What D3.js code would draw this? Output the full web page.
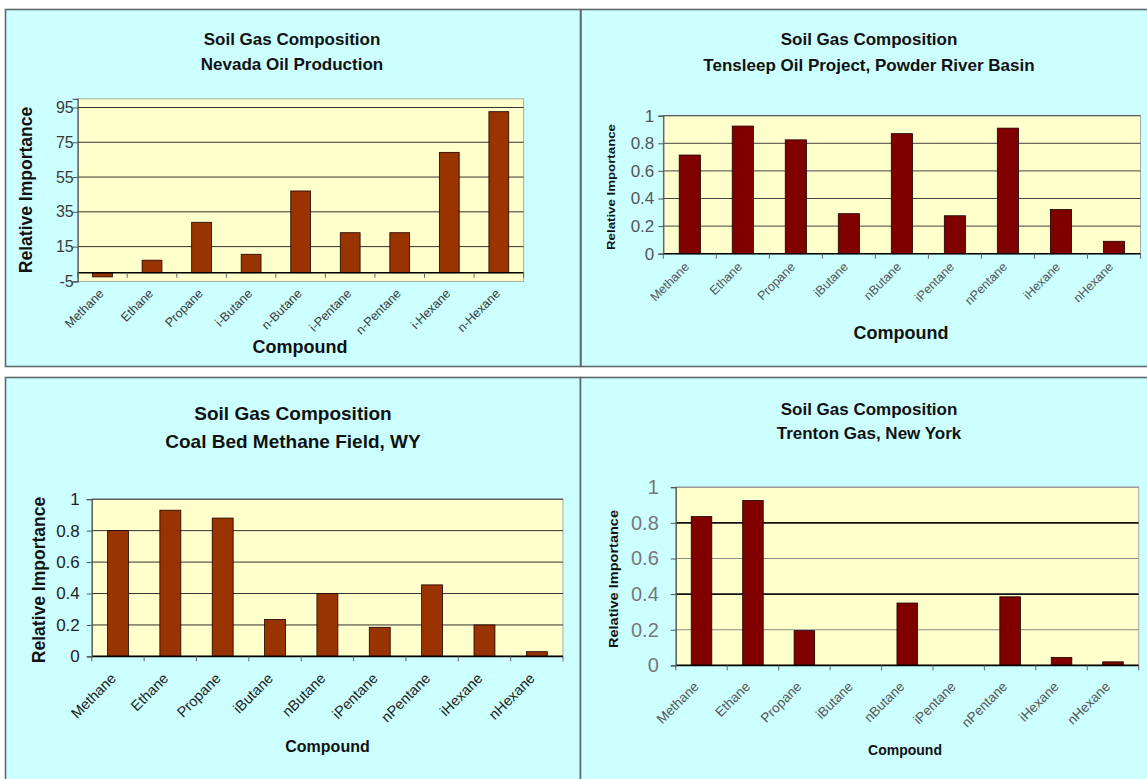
<!DOCTYPE html>
<html>
<head>
<meta charset="utf-8">
<script src="https://cdn.jsdelivr.net/npm/d3@7"></script>
<style>
  html, body { margin: 0; padding: 0; background: #ffffff; }
  svg { display: block; }
</style>
</head>
<body>
<script>
// ---- Data ---------------------------------------------------------------
const compounds = ["Methane", "Ethane", "Propane", "iButane", "nButane", "iPentane", "nPentane", "iHexane", "nHexane"];
const nevadaCompounds = ["Methane", "Ethane", "Propane", "i-Butane", "n-Butane", "i-Pentane", "n-Pentane", "i-Hexane", "n-Hexane"];

const nevadaValues   = [-2.4, 7.2, 29, 10.6, 47, 23, 23, 69.2, 92.6];
const tensleepValues = [0.715, 0.925, 0.825, 0.29, 0.87, 0.275, 0.91, 0.32, 0.09];
const coalBedValues  = [0.80, 0.93, 0.88, 0.235, 0.40, 0.185, 0.455, 0.20, 0.03];
const trentonValues  = [0.835, 0.925, 0.195, 0, 0.35, 0, 0.385, 0.045, 0.02];

const nevadaTicks   = [-5, 15, 35, 55, 75, 95];
const fractionTicks = [0, 0.2, 0.4, 0.6, 0.8, 1];

const chartTitle = "Soil Gas Composition";
const subtitles = ["Nevada Oil Production", "Tensleep Oil Project, Powder River Basin",
                   "Coal Bed Methane Field, WY", "Trenton Gas, New York"];
const yAxisTitle = "Relative Importance";
const xAxisTitle = "Compound";

// ---- Layout & style -----------------------------------------------------
const FONT = "'Liberation Sans', Arial, Helvetica, sans-serif";
const PANEL_BG = "#ccffff";
const PLOT_BG = "#ffffcc";

const panels = [
  {
    subtitle: subtitles[0], categories: nevadaCompounds, values: nevadaValues,
    domain: [-5, 100], ticks: nevadaTicks, fmt: d => String(d),
    box: { x: 5.5, y: 9.5, w: 575, h: 357 },
    plot: { x0: 77.7, x1: 523.6, y0: 98.8, y1: 281.4 },
    titleX: 292, titleY: [39.5, 63.6], titleSize: 17,
    yTitle: { x: 26, y: 190, size: 17.5 },
    xTitle: { x: 300, y: 347, size: 18 },
    tickSize: 16, tickColor: "#3a3a3a", labelGap: 4,
    catSize: 12.5, catColor: "#3a3a3a", catOffset: [2, 13],
    barFill: "#993300", gridColor: () => "#333", gridWidth: () => 1
  },
  {
    subtitle: subtitles[1], categories: compounds, values: tensleepValues,
    domain: [0, 1], ticks: fractionTicks, fmt: d => String(d),
    box: { x: 581, y: 9.5, w: 572, h: 357 },
    plot: { x0: 663.3, x1: 1140.5, y0: 115.7, y1: 253.7 },
    titleX: 869, titleY: [39.5, 64.7], titleSize: 17,
    yTitle: { x: 611, y: 187, size: 11.5, length: 126 },
    xTitle: { x: 901, y: 333, size: 18 },
    tickSize: 17, tickColor: "#555", labelGap: 9,
    catSize: 12.5, catColor: "#555", catOffset: [0, 14],
    barFill: "#800000", gridColor: () => "#444", gridWidth: () => 1
  },
  {
    subtitle: subtitles[2], categories: compounds, values: coalBedValues,
    domain: [0, 1], ticks: fractionTicks, fmt: d => String(d),
    box: { x: 5.5, y: 377.5, w: 575, h: 410 },
    plot: { x0: 91.8, x1: 563, y0: 499.2, y1: 656.4 },
    titleX: 293, titleY: [413.3, 441.6], titleSize: 19,
    yTitle: { x: 39, y: 580, size: 17.5 },
    xTitle: { x: 327.5, y: 746.3, size: 16 },
    tickSize: 17, tickColor: "#222", labelGap: 12,
    catSize: 14.5, catColor: "#222", catOffset: [-1, 23],
    barFill: "#993300", gridColor: () => "#333", gridWidth: () => 1
  },
  {
    subtitle: subtitles[3], categories: compounds, values: trentonValues,
    domain: [0, 1], ticks: fractionTicks, fmt: d => String(d),
    box: { x: 580.5, y: 377.5, w: 572, h: 410 },
    plot: { x0: 675.8, x1: 1138.7, y0: 487.2, y1: 665.4 },
    titleX: 869, titleY: [409.3, 432.6], titleSize: 17,
    yTitle: { x: 614, y: 579, size: 12, length: 138 },
    xTitle: { x: 905, y: 749.6, size: 14 },
    tickSize: 20, tickColor: "#777", labelGap: 17,
    catSize: 13.5, catColor: "#555", catOffset: [-2, 22],
    barFill: "#800000",
    // 0.4 and 0.8 lines print heavier than 0.2 and 0.6
    gridColor: (d, i) => (i % 2 === 1 ? "#111" : "#8a8a8a"),
    gridWidth: (d, i) => (i % 2 === 1 ? 1.6 : 1)
  }
];

const svg = d3.select("body").append("svg")
  .attr("width", 1147).attr("height", 779)
  .style("font-family", FONT);

svg.append("rect").attr("width", 1147).attr("height", 779).attr("fill", "#ffffff");

function drawPanel(p) {
  const g = svg.append("g");

  // panel background and frame
  g.append("rect")
    .attr("x", p.box.x).attr("y", p.box.y).attr("width", p.box.w).attr("height", p.box.h)
    .attr("fill", PANEL_BG).attr("stroke", "#5f6b6b").attr("stroke-width", 1.6);

  // titles
  [chartTitle, p.subtitle].forEach((t, i) => {
    g.append("text")
      .attr("x", p.titleX).attr("y", p.titleY[i])
      .attr("dy", "0.35em")
      .attr("text-anchor", "middle")
      .attr("font-size", p.titleSize).attr("font-weight", "bold")
      .attr("fill", "#111")
      .text(t);
  });

  // scales
  const slot = d3.scaleBand().domain(p.categories).range([p.plot.x0, p.plot.x1]).padding(0);
  const xBar = d3.scaleBand().domain(p.categories).range([p.plot.x0, p.plot.x1])
    .paddingInner(0.6).paddingOuter(0.3);
  const y = d3.scaleLinear().domain(p.domain).range([p.plot.y1, p.plot.y0]);

  // plot area
  g.append("rect")
    .attr("x", p.plot.x0).attr("y", p.plot.y0)
    .attr("width", p.plot.x1 - p.plot.x0).attr("height", p.plot.y1 - p.plot.y0)
    .attr("fill", PLOT_BG).attr("stroke", "#a8a8a8").attr("stroke-width", 1);

  // horizontal gridlines
  const gridTicks = p.ticks.filter(t => t > p.domain[0]);
  g.append("g").selectAll("line").data(gridTicks).join("line")
    .attr("x1", p.plot.x0).attr("x2", p.plot.x1)
    .attr("y1", d => y(d)).attr("y2", d => y(d))
    .attr("stroke", (d, i) => p.gridColor(d, i))
    .attr("stroke-width", (d, i) => p.gridWidth(d, i));

  // bars
  g.append("g").selectAll("rect").data(p.values).join("rect")
    .attr("x", (d, i) => xBar(p.categories[i]))
    .attr("width", xBar.bandwidth())
    .attr("y", d => Math.min(y(d), y(0)))
    .attr("height", d => Math.abs(y(d) - y(0)))
    .attr("fill", p.barFill)
    .attr("stroke", "#1a0000").attr("stroke-width", 0.8);

  // category axis line at zero with tick marks between categories
  const zeroY = y(0);
  g.append("line")
    .attr("x1", p.plot.x0).attr("x2", p.plot.x1)
    .attr("y1", zeroY).attr("y2", zeroY)
    .attr("stroke", "#000").attr("stroke-width", 1.6);
  const bounds = d3.range(p.categories.length + 1).map(i => p.plot.x0 + i * slot.step());
  g.append("g").selectAll("line").data(bounds).join("line")
    .attr("x1", d => d).attr("x2", d => d)
    .attr("y1", zeroY).attr("y2", zeroY + 5)
    .attr("stroke", "#666").attr("stroke-width", 1);

  // value axis
  const yAxis = d3.axisLeft(y).tickValues(p.ticks).tickFormat(p.fmt)
    .tickSize(5).tickPadding(p.labelGap - 5);
  const ya = g.append("g").attr("transform", `translate(${p.plot.x0},0)`).call(yAxis);
  ya.select(".domain").attr("stroke", "#555").attr("stroke-width", 1.2);
  ya.selectAll(".tick line").attr("stroke", "#555");
  ya.selectAll(".tick text")
    .attr("font-family", FONT).attr("font-size", p.tickSize)
    .attr("fill", p.tickColor);

  // rotated category labels
  g.append("g").selectAll("text").data(p.categories).join("text")
    .attr("transform", d => {
      const cx = slot(d) + slot.bandwidth() / 2 + p.catOffset[0];
      const cy = p.plot.y1 + p.catOffset[1];
      return `translate(${cx},${cy}) rotate(-45)`;
    })
    .attr("text-anchor", "end")
    .attr("font-size", p.catSize)
    .attr("fill", p.catColor)
    .text(d => d);

  // axis titles
  const yt = g.append("text")
    .attr("transform", `translate(${p.yTitle.x},${p.yTitle.y}) rotate(-90)`)
    .attr("dy", "0.35em")
    .attr("text-anchor", "middle")
    .attr("font-size", p.yTitle.size).attr("font-weight", "bold")
    .attr("fill", "#111")
    .text(yAxisTitle);
  if (p.yTitle.length) {
    yt.attr("textLength", p.yTitle.length).attr("lengthAdjust", "spacingAndGlyphs");
  }

  g.append("text")
    .attr("x", p.xTitle.x).attr("y", p.xTitle.y)
    .attr("dy", "0.35em")
    .attr("text-anchor", "middle")
    .attr("font-size", p.xTitle.size).attr("font-weight", "bold")
    .attr("fill", "#111")
    .text(xAxisTitle);
}

panels.forEach(drawPanel);
</script>
</body>
</html>
